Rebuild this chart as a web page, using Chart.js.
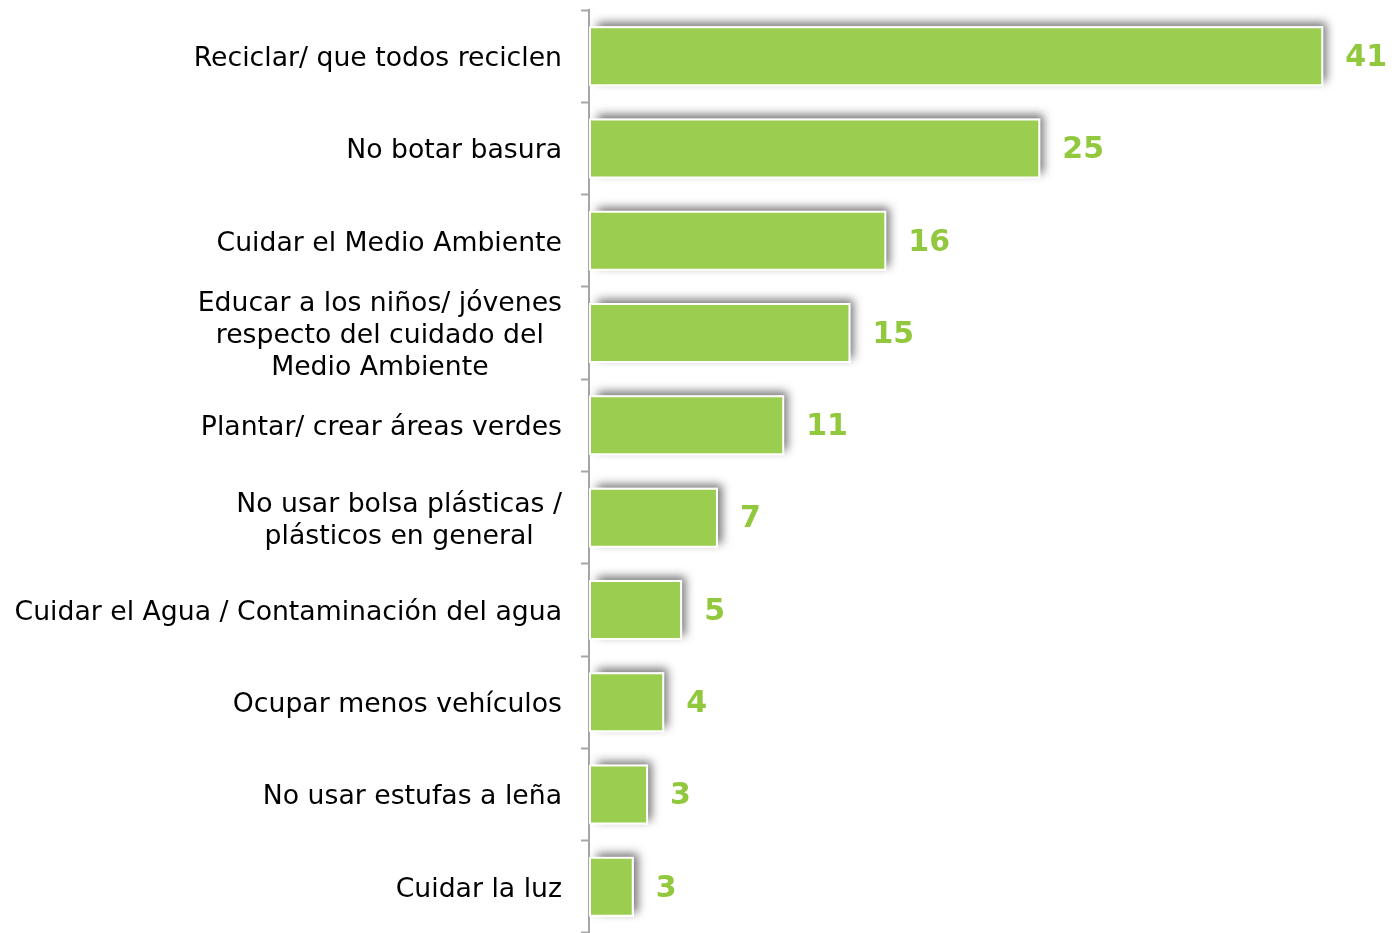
<!DOCTYPE html>
<html>
<head>
<meta charset="utf-8">
<script src="https://cdn.jsdelivr.net/npm/chart.js@4/dist/chart.umd.min.js"></script>
<style>
  html, body { margin: 0; padding: 0; background: #ffffff; }
  #wrap { width: 1400px; height: 933px; position: relative; }
</style>
</head>
<body>
<div id="wrap"><canvas id="acciones"></canvas></div>
<script>
var categorias = [
  "Reciclar/ que todos reciclen",
  "No botar basura",
  "Cuidar el Medio Ambiente",
  ["Educar a los niños/ jóvenes", "respecto del cuidado del", "Medio Ambiente"],
  "Plantar/ crear áreas verdes",
  ["No usar bolsa plásticas /", "plásticos en general"],
  "Cuidar el Agua / Contaminación del agua",
  "Ocupar menos vehículos",
  "No usar estufas a leña",
  "Cuidar la luz"
];
// largo de barra
var valores = [41, 25.2, 16.6, 14.6, 10.9, 7.2, 5.2, 4.2, 3.3, 2.5];
// etiquetas tal como aparecen
var etiquetas = ["41", "25", "16", "15", "11", "7", "5", "4", "3", "3"];

var verde = "rgb(155, 206, 80)";
var verdeTexto = "rgb(146, 200, 62)";
var fuente = "'DejaVu Sans'";

var sombra = {
  id: "sombra",
  beforeDatasetsDraw: function (chart) {
    var ctx = chart.ctx;
    chart.getDatasetMeta(0).data.forEach(function (bar) {
      var p = bar.getProps(["x", "y", "base", "height"], true);
      ctx.save();
      ctx.shadowColor = "rgba(0, 0, 0, 0.55)";
      ctx.shadowBlur = 9;
      ctx.shadowOffsetX = 4;
      ctx.shadowOffsetY = -4;
      ctx.fillStyle = "#ffffff";
      ctx.fillRect(p.base + 4, p.y - p.height / 2, p.x - p.base - 4, p.height);
      ctx.restore();
    });
  }
};

// valores al final de cada barra
var rotulos = {
  id: "rotulos",
  afterDatasetsDraw: function (chart) {
    var ctx = chart.ctx;
    ctx.save();
    ctx.font = "bold 30px " + fuente;
    ctx.fillStyle = verdeTexto;
    ctx.textAlign = "left";
    ctx.textBaseline = "middle";
    chart.getDatasetMeta(0).data.forEach(function (bar, i) {
      ctx.fillText(etiquetas[i], bar.x + 22, bar.y + 2);
    });
    ctx.restore();
  }
};

// categorias: lineas centradas dentro del bloque, bloque alineado a la derecha
var categoriasCentradas = {
  id: "categoriasCentradas",
  afterDraw: function (chart) {
    var ctx = chart.ctx;
    var escala = chart.scales.y;
    var derecha = escala.right - 8 - 19;
    var alto = 32;
    ctx.save();
    ctx.font = "26.7px " + fuente;
    ctx.fillStyle = "#000000";
    ctx.textAlign = "center";
    ctx.textBaseline = "middle";
    categorias.forEach(function (cat, i) {
      var lineas = Array.isArray(cat) ? cat : [cat];
      var ancho = 0;
      lineas.forEach(function (l) { ancho = Math.max(ancho, ctx.measureText(l).width); });
      var cx = derecha - ancho / 2;
      var yc = escala.getPixelForTick(i) + 3;
      var y0 = yc - (lineas.length - 1) * alto / 2;
      lineas.forEach(function (l, j) {
        ctx.fillText(l, cx, y0 + j * alto);
      });
    });
    ctx.restore();
  }
};

var lienzo = document.getElementById("acciones");
var grafico = new Chart(lienzo, {
  type: "bar",
  data: {
    labels: categorias,
    datasets: [
      {
        data: valores,
        backgroundColor: verde,
        borderColor: "#ffffff",
        borderWidth: 2,
        borderSkipped: false,
        barPercentage: 0.65,
        categoryPercentage: 1
      }
    ]
  },
  options: {
    indexAxis: "y",
    responsive: true,
    maintainAspectRatio: false,
    animation: false,
    layout: { padding: { top: 10, right: 23, bottom: 0, left: 0 } },
    plugins: {
      legend: { display: false },
      tooltip: { enabled: false }
    },
    scales: {
      x: {
        display: false,
        min: 0,
        max: 44
      },
      y: {
        afterFit: function (scale) {
          scale.width = 589;
          scale.paddingTop = 0;
          scale.paddingBottom = 0;
        },
        border: { color: "#a6a6a6", width: 2 },
        grid: {
          offset: true,
          drawOnChartArea: false,
          tickLength: 8,
          tickWidth: 2,
          tickColor: "#a6a6a6"
        },
        ticks: {
          autoSkip: false,
          padding: 19,
          color: "rgba(0, 0, 0, 0)",
          font: { family: fuente, size: 26.7, lineHeight: 1.21 }
        }
      }
    }
  },
  plugins: [sombra, rotulos, categoriasCentradas]
});
</script>
</body>
</html>
